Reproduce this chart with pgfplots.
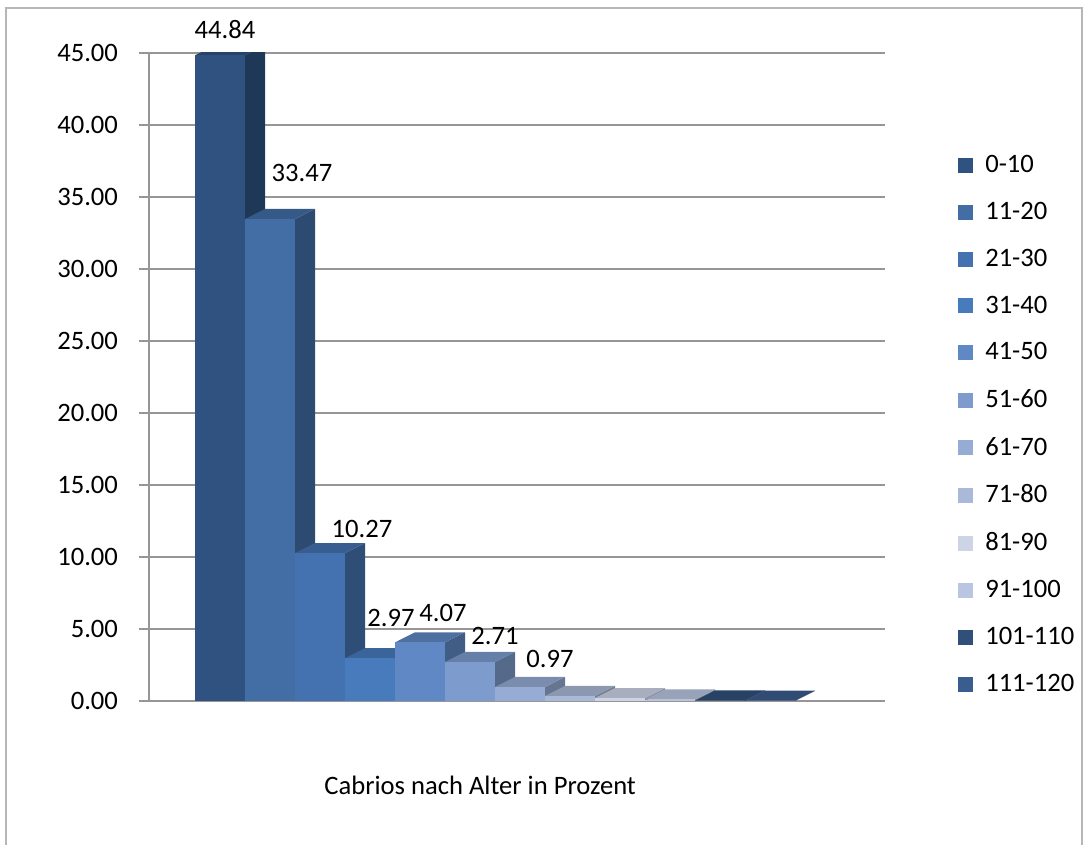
\documentclass[border=0pt]{standalone}
\usepackage{pgfplots}
\pgfplotsset{compat=1.18}
\usepackage{fontspec}
\setmainfont{Carlito}
\definecolor{c1}{RGB}{47,82,128}
\definecolor{c2}{RGB}{66,110,165}
\definecolor{c3}{RGB}{68,114,176}
\definecolor{c4}{RGB}{72,123,188}
\definecolor{c5}{RGB}{95,136,196}
\definecolor{c6}{RGB}{125,155,205}
\definecolor{c7}{RGB}{150,172,212}
\definecolor{c8}{RGB}{170,185,215}
\definecolor{c9}{RGB}{205,212,230}
\definecolor{c10}{RGB}{185,197,225}
\definecolor{c11}{RGB}{48,80,122}
\definecolor{c12}{RGB}{58,93,143}
\definecolor{gridgray}{RGB}{150,150,150}
\newcommand{\fs}{\fontsize{13.3}{15}\selectfont}
\begin{document}
\begin{tikzpicture}[x=1pt,y=1pt]
\useasboundingbox (0,0) rectangle (543.5,422.5);
\draw[gridgray!70, line width=0.8pt] (3,0) -- (3,418.5) -- (541,418.5) -- (541,0);
\begin{axis}[
  at={(74.5pt,72pt)}, anchor=south west,
  scale only axis, width=368pt, height=324pt,
  xmin=-1.42, xmax=13.3, ymin=0, ymax=45,
  axis x line*=bottom, axis y line*=left,
  axis line style={gridgray, line width=0.7pt},
  xtick=\empty,
  ytick={0,5,...,45},
  tick align=outside, major tick length=5pt,
  tick style={gridgray, line width=0.7pt},
  ymajorgrids, grid style={gridgray, line width=0.7pt},
  /pgf/number format/assume math mode=true,
  yticklabel style={/pgf/number format/.cd, fixed, fixed zerofill, precision=2},
  ticklabel style={font=\fs, xshift=-7pt},
  xlabel={Cabrios nach Alter in Prozent},
  xlabel style={font=\fs, at={(axis description cs:0.45,-0.13)}, anchor=center},
  legend style={draw=none, fill=none, font=\fs, at={(1.099,0.849)}, anchor=north west,
    row sep=9.3pt, inner sep=0pt, /tikz/every odd column/.append style={column sep=4pt}},
  legend cell align=left,
  legend image code/.code={\fill[#1] (0pt,-3.75pt) rectangle (7.5pt,3.75pt);},
  nodes near coords style={font=\fs, anchor=south},
  lbl/.style 2 args={nodes near coords={\pgfmathprintnumber[fixed,fixed zerofill,precision=2,assume math mode=true]{\pgfplotspointmeta}},
    nodes near coords style={xshift=#1, yshift=#2}},
  bar/.style={ybar, bar width=25pt, bar shift=0pt, fill=#1, draw=none},
  side/.style={fill=#1!68!black, draw=none, forget plot},
  top/.style={fill=#1!82!black, draw=none, forget plot},
]
% 0-10
\addplot[side=c1] coordinates {(0.5,0) (0.9,0.7) (0.9,45.54) (0.5,44.84)};
\addplot[top=c1] coordinates {(-0.5,44.84) (0.5,44.84) (0.9,45.54) (-0.1,45.54)};
\addplot[bar=c1, lbl={2.5pt}{5pt}] coordinates {(0,44.84)};
% 11-20
\addplot[side=c2] coordinates {(1.5,0) (1.9,0.7) (1.9,34.17) (1.5,33.47)};
\addplot[top=c2] coordinates {(0.5,33.47) (1.5,33.47) (1.9,34.17) (0.9,34.17)};
\addplot[bar=c2, lbl={16pt}{15pt}] coordinates {(1,33.47)};
% 21-30
\addplot[side=c3] coordinates {(2.5,0) (2.9,0.7) (2.9,10.97) (2.5,10.27)};
\addplot[top=c3] coordinates {(1.5,10.27) (2.5,10.27) (2.9,10.97) (1.9,10.97)};
\addplot[bar=c3, lbl={21pt}{4pt}] coordinates {(2,10.27)};
% 31-40
\addplot[side=c4] coordinates {(3.5,0) (3.9,0.7) (3.9,3.67) (3.5,2.97)};
\addplot[top=c4] coordinates {(2.5,2.97) (3.5,2.97) (3.9,3.67) (2.9,3.67)};
\addplot[bar=c4, lbl={10.5pt}{12pt}] coordinates {(3,2.97)};
% 41-50
\addplot[side=c5] coordinates {(4.5,0) (4.9,0.7) (4.9,4.77) (4.5,4.07)};
\addplot[top=c5] coordinates {(3.5,4.07) (4.5,4.07) (4.9,4.77) (3.9,4.77)};
\addplot[bar=c5, lbl={11.5pt}{7pt}] coordinates {(4,4.07)};
% 51-60
\addplot[side=c6] coordinates {(5.5,0) (5.9,0.7) (5.9,3.41) (5.5,2.71)};
\addplot[top=c6] coordinates {(4.5,2.71) (5.5,2.71) (5.9,3.41) (4.9,3.41)};
\addplot[bar=c6, lbl={12.5pt}{5pt}] coordinates {(5,2.71)};
% 61-70
\addplot[side=c7] coordinates {(6.5,0) (6.9,0.7) (6.9,1.67) (6.5,0.97)};
\addplot[top=c7] coordinates {(5.5,0.97) (6.5,0.97) (6.9,1.67) (5.9,1.67)};
\addplot[bar=c7, lbl={15pt}{6pt}] coordinates {(6,0.97)};
% 71-80
\addplot[side=c8] coordinates {(7.5,0) (7.9,0.7) (7.9,1.05) (7.5,0.35)};
\addplot[top=c8] coordinates {(6.5,0.35) (7.5,0.35) (7.9,1.05) (6.9,1.05)};
\addplot[bar=c8] coordinates {(7,0.35)};
% 81-90
\addplot[side=c9] coordinates {(8.5,0) (8.9,0.7) (8.9,0.90) (8.5,0.20)};
\addplot[top=c9] coordinates {(7.5,0.20) (8.5,0.20) (8.9,0.90) (7.9,0.90)};
\addplot[bar=c9] coordinates {(8,0.20)};
% 91-100
\addplot[side=c10] coordinates {(9.5,0) (9.9,0.7) (9.9,0.80) (9.5,0.10)};
\addplot[top=c10] coordinates {(8.5,0.10) (9.5,0.10) (9.9,0.80) (8.9,0.80)};
\addplot[bar=c10] coordinates {(9,0.10)};
% 101-110
\addplot[side=c11] coordinates {(10.5,0) (10.9,0.7) (10.9,0.73) (10.5,0.03)};
\addplot[top=c11] coordinates {(9.5,0.03) (10.5,0.03) (10.9,0.73) (9.9,0.73)};
\addplot[bar=c11] coordinates {(10,0.03)};
% 111-120
\addplot[side=c12] coordinates {(11.5,0) (11.9,0.7) (11.9,0.72) (11.5,0.02)};
\addplot[top=c12] coordinates {(10.5,0.02) (11.5,0.02) (11.9,0.72) (10.9,0.72)};
\addplot[bar=c12] coordinates {(11,0.02)};
\legend{0-10,11-20,21-30,31-40,41-50,51-60,61-70,71-80,81-90,91-100,101-110,111-120}
\end{axis}
\end{tikzpicture}
\end{document}
